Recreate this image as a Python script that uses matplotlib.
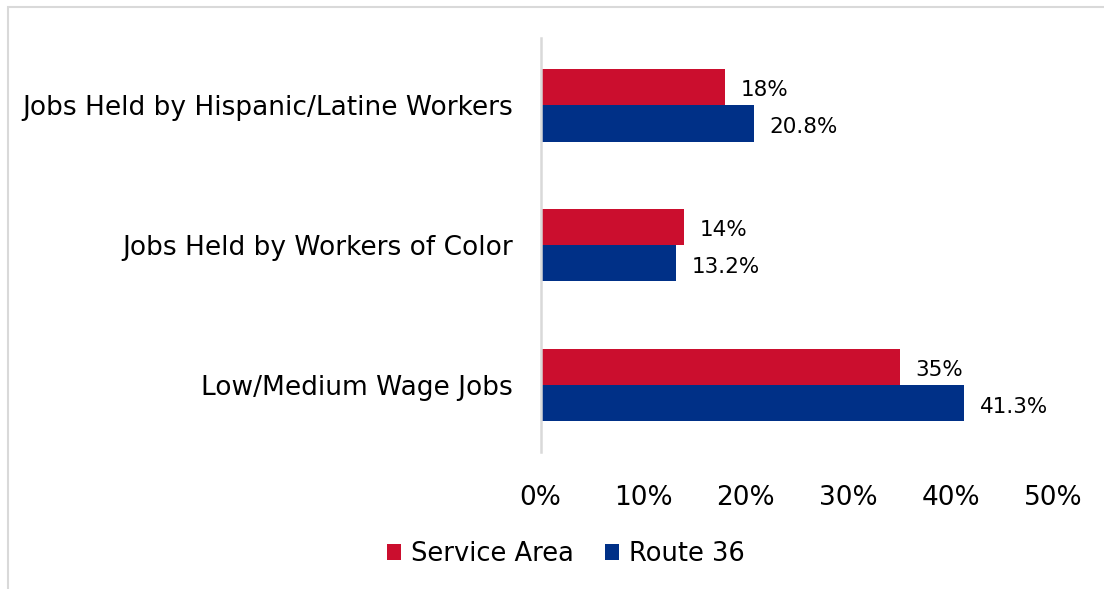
import matplotlib.pyplot as plt
from matplotlib.patches import Rectangle
import numpy as np

# данные с графика
categories = ["Jobs Held by Hispanic/Latine Workers",
              "Jobs Held by Workers of Color",
              "Low/Medium Wage Jobs"]
service_area = [18, 14, 35]
route_36 = [20.8, 13.2, 41.3]
service_labels = ["18%", "14%", "35%"]
route_labels = ["20.8%", "13.2%", "41.3%"]
x_ticks = [0, 10, 20, 30, 40, 50]

RED = "#CB0E2E"
BLUE = "#003087"

plt.rcParams['font.family'] = ['DejaVu Sans']

fig = plt.figure(figsize=(11.04, 5.89), dpi=100)
ax = fig.add_axes([540.5 / 1104, 1 - 452 / 589, 513 / 1104, 414 / 589])

y = np.arange(len(categories))
h = 0.26
ax.barh(y - h / 2, service_area, height=h, color=RED, label="Service Area")
ax.barh(y + h / 2, route_36, height=h, color=BLUE, label="Route 36")

# подписи значений
for yi, v, t in zip(y, service_area, service_labels):
    ax.annotate(t, (v, yi - h / 2), xytext=(11.5, -2.5), textcoords="offset points",
                va="center", ha="left", fontsize=15.5, color="#000000")
for yi, v, t in zip(y, route_36, route_labels):
    ax.annotate(t, (v, yi + h / 2), xytext=(11, -2.5), textcoords="offset points",
                va="center", ha="left", fontsize=15.5, color="#000000")

ax.set_xlim(0, 50)
ax.set_ylim(2.48, -0.48)
ax.set_xticks(x_ticks)
ax.set_xticklabels([f"{t}%" for t in x_ticks], fontsize=19)
ax.set_yticks(y)
ax.set_yticklabels(categories, fontsize=19)
ax.tick_params(axis="x", length=0, pad=24)
ax.tick_params(axis="y", length=0, pad=20)

for s in ["top", "right", "bottom"]:
    ax.spines[s].set_visible(False)
ax.spines["left"].set_color("#D9D9D9")
ax.spines["left"].set_linewidth(1.8)

fig.legend(loc="center", bbox_to_anchor=(566 / 1104, 1 - 554 / 589), ncol=2,
           frameon=False, fontsize=18.5, handlelength=0.55, handleheight=0.55,
           handletextpad=0.4, columnspacing=1.2)

# рамка сверху и слева
fig.add_artist(Rectangle((8 / 1104, -0.1), 1.2, 1 - 7 / 589 + 0.1,
                         transform=fig.transFigure, fill=False,
                         edgecolor="#D9D9D9", linewidth=1.5))

fig.savefig("out.png", dpi=100)
plt.close()
